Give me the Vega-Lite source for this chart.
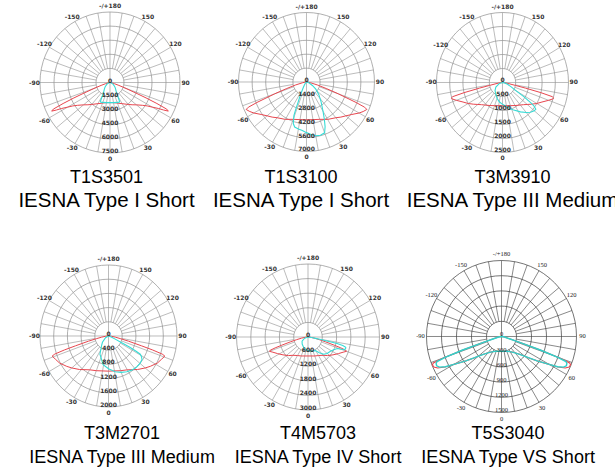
{
"$schema": "https://vega.github.io/schema/vega-lite/v6.json",
"padding": 0,
"background": "white",
"bounds": "flush",
"columns": 3,
"spacing": {"row": 88, "column": 0},
"resolve": {"scale": {"size": "independent", "x": "independent", "y": "independent"}},
"datasets": {
"spokes": [{"a":0},{"a":10},{"a":20},{"a":30},{"a":40},{"a":50},{"a":60},{"a":70},{"a":80},{"a":90},{"a":100},{"a":110},{"a":120},{"a":130},{"a":140},{"a":150},{"a":160},{"a":170},{"a":180},{"a":190},{"a":200},{"a":210},{"a":220},{"a":230},{"a":240},{"a":250},{"a":260},{"a":270},{"a":280},{"a":290},{"a":300},{"a":310},{"a":320},{"a":330},{"a":340},{"a":350}],
"alabels": [{"a":0,"t":"0"},{"a":30,"t":"30"},{"a":60,"t":"60"},{"a":90,"t":"90"},{"a":120,"t":"120"},{"a":150,"t":"150"},{"a":180,"t":"-/+180"},{"a":-150,"t":"-150"},{"a":-120,"t":"-120"},{"a":-90,"t":"-90"},{"a":-60,"t":"-60"},{"a":-30,"t":"-30"}],
"rings": [
{"p":1,"v":0},{"p":1,"v":1500},{"p":1,"v":3000},{"p":1,"v":4500},{"p":1,"v":6000},{"p":1,"v":7500},
{"p":2,"v":0},{"p":2,"v":1400},{"p":2,"v":2800},{"p":2,"v":4200},{"p":2,"v":5600},{"p":2,"v":7000},
{"p":3,"v":0},{"p":3,"v":500},{"p":3,"v":1000},{"p":3,"v":1500},{"p":3,"v":2000},{"p":3,"v":2500},
{"p":4,"v":0},{"p":4,"v":400},{"p":4,"v":800},{"p":4,"v":1200},{"p":4,"v":1600},{"p":4,"v":2000},
{"p":5,"v":0},{"p":5,"v":600},{"p":5,"v":1200},{"p":5,"v":1800},{"p":5,"v":2400},{"p":5,"v":3000},
{"p":6,"v":0},{"p":6,"v":300},{"p":6,"v":600},{"p":6,"v":900},{"p":6,"v":1200},{"p":6,"v":1500}],
"curves": [
{"p":1,"s":"r","a":-90,"v":0},{"p":1,"s":"r","a":-85,"v":70},{"p":1,"s":"r","a":-80,"v":200},{"p":1,"s":"r","a":-75,"v":500},{"p":1,"s":"r","a":-72,"v":1000},{"p":1,"s":"r","a":-70,"v":1700},{"p":1,"s":"r","a":-68,"v":3000},{"p":1,"s":"r","a":-67,"v":4200},{"p":1,"s":"r","a":-66,"v":5500},{"p":1,"s":"r","a":-65,"v":6700},{"p":1,"s":"r","a":-64,"v":6950},{"p":1,"s":"r","a":-63,"v":6450},{"p":1,"s":"r","a":-62,"v":5900},{"p":1,"s":"r","a":-60,"v":5240},{"p":1,"s":"r","a":-58,"v":4700},{"p":1,"s":"r","a":-55,"v":4230},{"p":1,"s":"r","a":-50,"v":3700},{"p":1,"s":"r","a":-45,"v":3350},{"p":1,"s":"r","a":-40,"v":3050},{"p":1,"s":"r","a":-30,"v":2600},{"p":1,"s":"r","a":-20,"v":2330},{"p":1,"s":"r","a":-10,"v":2180},
{"p":1,"s":"r","a":0,"v":2140},{"p":1,"s":"r","a":10,"v":2180},{"p":1,"s":"r","a":20,"v":2330},{"p":1,"s":"r","a":30,"v":2600},{"p":1,"s":"r","a":40,"v":3050},{"p":1,"s":"r","a":45,"v":3350},{"p":1,"s":"r","a":50,"v":3700},{"p":1,"s":"r","a":55,"v":4230},{"p":1,"s":"r","a":58,"v":4700},{"p":1,"s":"r","a":60,"v":5240},{"p":1,"s":"r","a":62,"v":5900},{"p":1,"s":"r","a":63,"v":6450},{"p":1,"s":"r","a":64,"v":6950},{"p":1,"s":"r","a":65,"v":6700},{"p":1,"s":"r","a":66,"v":5500},{"p":1,"s":"r","a":67,"v":4200},{"p":1,"s":"r","a":68,"v":3000},{"p":1,"s":"r","a":70,"v":1700},{"p":1,"s":"r","a":72,"v":1000},{"p":1,"s":"r","a":75,"v":500},{"p":1,"s":"r","a":80,"v":200},{"p":1,"s":"r","a":85,"v":70},{"p":1,"s":"r","a":90,"v":0},
{"p":1,"s":"c","a":-90,"v":0},{"p":1,"s":"c","a":-80,"v":80},{"p":1,"s":"c","a":-70,"v":200},{"p":1,"s":"c","a":-60,"v":400},{"p":1,"s":"c","a":-50,"v":650},{"p":1,"s":"c","a":-45,"v":800},{"p":1,"s":"c","a":-40,"v":950},{"p":1,"s":"c","a":-35,"v":1150},{"p":1,"s":"c","a":-31,"v":1450},{"p":1,"s":"c","a":-29,"v":1800},{"p":1,"s":"c","a":-27,"v":2250},{"p":1,"s":"c","a":-25,"v":2320},{"p":1,"s":"c","a":-20,"v":2250},{"p":1,"s":"c","a":-10,"v":2170},
{"p":1,"s":"c","a":0,"v":2140},{"p":1,"s":"c","a":10,"v":2170},{"p":1,"s":"c","a":20,"v":2250},{"p":1,"s":"c","a":25,"v":2320},{"p":1,"s":"c","a":27,"v":2250},{"p":1,"s":"c","a":29,"v":1800},{"p":1,"s":"c","a":31,"v":1450},{"p":1,"s":"c","a":35,"v":1150},{"p":1,"s":"c","a":40,"v":950},{"p":1,"s":"c","a":45,"v":800},{"p":1,"s":"c","a":50,"v":650},{"p":1,"s":"c","a":60,"v":400},{"p":1,"s":"c","a":70,"v":200},{"p":1,"s":"c","a":80,"v":80},{"p":1,"s":"c","a":90,"v":0},
{"p":2,"s":"r","a":-90,"v":0},{"p":2,"s":"r","a":-85,"v":150},{"p":2,"s":"r","a":-80,"v":400},{"p":2,"s":"r","a":-75,"v":1200},{"p":2,"s":"r","a":-72,"v":2200},{"p":2,"s":"r","a":-70,"v":3500},{"p":2,"s":"r","a":-68,"v":5500},{"p":2,"s":"r","a":-67,"v":6500},{"p":2,"s":"r","a":-66,"v":6800},{"p":2,"s":"r","a":-63,"v":6550},{"p":2,"s":"r","a":-60,"v":6250},{"p":2,"s":"r","a":-55,"v":5700},{"p":2,"s":"r","a":-50,"v":5300},{"p":2,"s":"r","a":-45,"v":5000},{"p":2,"s":"r","a":-40,"v":4700},{"p":2,"s":"r","a":-30,"v":4350},{"p":2,"s":"r","a":-20,"v":4000},{"p":2,"s":"r","a":-10,"v":3850},
{"p":2,"s":"r","a":0,"v":3800},{"p":2,"s":"r","a":10,"v":3850},{"p":2,"s":"r","a":20,"v":4000},{"p":2,"s":"r","a":30,"v":4350},{"p":2,"s":"r","a":40,"v":4700},{"p":2,"s":"r","a":45,"v":5000},{"p":2,"s":"r","a":50,"v":5300},{"p":2,"s":"r","a":55,"v":5700},{"p":2,"s":"r","a":60,"v":6250},{"p":2,"s":"r","a":63,"v":6550},{"p":2,"s":"r","a":66,"v":6800},{"p":2,"s":"r","a":67,"v":6500},{"p":2,"s":"r","a":68,"v":5500},{"p":2,"s":"r","a":70,"v":3500},{"p":2,"s":"r","a":72,"v":2200},{"p":2,"s":"r","a":75,"v":1200},{"p":2,"s":"r","a":80,"v":400},{"p":2,"s":"r","a":85,"v":150},{"p":2,"s":"r","a":90,"v":0},
{"p":2,"s":"c","a":-90,"v":0},{"p":2,"s":"c","a":-60,"v":50},{"p":2,"s":"c","a":-45,"v":150},{"p":2,"s":"c","a":-35,"v":400},{"p":2,"s":"c","a":-30,"v":700},{"p":2,"s":"c","a":-27,"v":1100},{"p":2,"s":"c","a":-25,"v":1600},{"p":2,"s":"c","a":-23,"v":2200},{"p":2,"s":"c","a":-22,"v":2900},{"p":2,"s":"c","a":-21,"v":3600},{"p":2,"s":"c","a":-18,"v":4400},{"p":2,"s":"c","a":-15,"v":4700},{"p":2,"s":"c","a":-10,"v":4800},{"p":2,"s":"c","a":-5,"v":4900},{"p":2,"s":"c","a":0,"v":5100},{"p":2,"s":"c","a":5,"v":5300},{"p":2,"s":"c","a":10,"v":5500},{"p":2,"s":"c","a":15,"v":5550},{"p":2,"s":"c","a":20,"v":5450},{"p":2,"s":"c","a":23,"v":4900},{"p":2,"s":"c","a":26,"v":4200},{"p":2,"s":"c","a":30,"v":3400},{"p":2,"s":"c","a":37,"v":2500},{"p":2,"s":"c","a":45,"v":1800},{"p":2,"s":"c","a":53,"v":1200},{"p":2,"s":"c","a":60,"v":700},{"p":2,"s":"c","a":70,"v":300},{"p":2,"s":"c","a":80,"v":100},{"p":2,"s":"c","a":90,"v":0},
{"p":3,"s":"r","a":-90,"v":0},{"p":3,"s":"r","a":-84,"v":100},{"p":3,"s":"r","a":-80,"v":250},{"p":3,"s":"r","a":-78,"v":500},{"p":3,"s":"r","a":-77,"v":900},{"p":3,"s":"r","a":-76,"v":1500},{"p":3,"s":"r","a":-75,"v":1950},{"p":3,"s":"r","a":-74,"v":2020},{"p":3,"s":"r","a":-73,"v":2000},{"p":3,"s":"r","a":-70,"v":1860},{"p":3,"s":"r","a":-65,"v":1650},{"p":3,"s":"r","a":-60,"v":1500},{"p":3,"s":"r","a":-55,"v":1350},{"p":3,"s":"r","a":-50,"v":1220},{"p":3,"s":"r","a":-45,"v":1120},{"p":3,"s":"r","a":-40,"v":1050},{"p":3,"s":"r","a":-30,"v":950},{"p":3,"s":"r","a":-20,"v":880},
{"p":3,"s":"r","a":0,"v":830},{"p":3,"s":"r","a":20,"v":880},{"p":3,"s":"r","a":30,"v":950},{"p":3,"s":"r","a":40,"v":1050},{"p":3,"s":"r","a":45,"v":1120},{"p":3,"s":"r","a":50,"v":1220},{"p":3,"s":"r","a":55,"v":1350},{"p":3,"s":"r","a":60,"v":1500},{"p":3,"s":"r","a":65,"v":1650},{"p":3,"s":"r","a":70,"v":1860},{"p":3,"s":"r","a":73,"v":2000},{"p":3,"s":"r","a":74,"v":2020},{"p":3,"s":"r","a":75,"v":1950},{"p":3,"s":"r","a":76,"v":1500},{"p":3,"s":"r","a":77,"v":900},{"p":3,"s":"r","a":78,"v":500},{"p":3,"s":"r","a":80,"v":250},{"p":3,"s":"r","a":84,"v":100},{"p":3,"s":"r","a":90,"v":0},
{"p":3,"s":"c","a":-90,"v":0},{"p":3,"s":"c","a":-75,"v":120},{"p":3,"s":"c","a":-57,"v":300},{"p":3,"s":"c","a":-45,"v":400},{"p":3,"s":"c","a":-30,"v":500},{"p":3,"s":"c","a":-20,"v":600},{"p":3,"s":"c","a":-10,"v":700},{"p":3,"s":"c","a":0,"v":780},{"p":3,"s":"c","a":12,"v":900},{"p":3,"s":"c","a":22,"v":1050},{"p":3,"s":"c","a":33,"v":1250},{"p":3,"s":"c","a":40,"v":1400},{"p":3,"s":"c","a":45,"v":1500},{"p":3,"s":"c","a":50,"v":1570},{"p":3,"s":"c","a":53,"v":1580},{"p":3,"s":"c","a":55,"v":1450},{"p":3,"s":"c","a":56,"v":1300},{"p":3,"s":"c","a":58,"v":950},{"p":3,"s":"c","a":60,"v":600},{"p":3,"s":"c","a":65,"v":350},{"p":3,"s":"c","a":72,"v":200},{"p":3,"s":"c","a":80,"v":80},{"p":3,"s":"c","a":90,"v":0},
{"p":4,"s":"r","a":-90,"v":0},{"p":4,"s":"r","a":-85,"v":80},{"p":4,"s":"r","a":-81,"v":200},{"p":4,"s":"r","a":-78,"v":350},{"p":4,"s":"r","a":-76,"v":600},{"p":4,"s":"r","a":-74,"v":1000},{"p":4,"s":"r","a":-73,"v":1350},{"p":4,"s":"r","a":-72,"v":1650},{"p":4,"s":"r","a":-71,"v":1740},{"p":4,"s":"r","a":-67,"v":1680},{"p":4,"s":"r","a":-62,"v":1620},{"p":4,"s":"r","a":-55,"v":1490},{"p":4,"s":"r","a":-50,"v":1400},{"p":4,"s":"r","a":-42,"v":1270},{"p":4,"s":"r","a":-30,"v":1100},{"p":4,"s":"r","a":-20,"v":1040},
{"p":4,"s":"r","a":0,"v":990},{"p":4,"s":"r","a":20,"v":1040},{"p":4,"s":"r","a":30,"v":1100},{"p":4,"s":"r","a":42,"v":1270},{"p":4,"s":"r","a":50,"v":1400},{"p":4,"s":"r","a":55,"v":1490},{"p":4,"s":"r","a":62,"v":1620},{"p":4,"s":"r","a":67,"v":1680},{"p":4,"s":"r","a":71,"v":1740},{"p":4,"s":"r","a":72,"v":1650},{"p":4,"s":"r","a":73,"v":1350},{"p":4,"s":"r","a":74,"v":1000},{"p":4,"s":"r","a":76,"v":600},{"p":4,"s":"r","a":78,"v":350},{"p":4,"s":"r","a":81,"v":200},{"p":4,"s":"r","a":85,"v":80},{"p":4,"s":"r","a":90,"v":0},
{"p":4,"s":"c","a":-90,"v":0},{"p":4,"s":"c","a":-60,"v":100},{"p":4,"s":"c","a":-45,"v":250},{"p":4,"s":"c","a":-37,"v":335},{"p":4,"s":"c","a":-26,"v":570},{"p":4,"s":"c","a":-11,"v":820},{"p":4,"s":"c","a":0,"v":920},{"p":4,"s":"c","a":11,"v":1025},{"p":4,"s":"c","a":20,"v":1090},{"p":4,"s":"c","a":28,"v":1140},{"p":4,"s":"c","a":36,"v":1180},{"p":4,"s":"c","a":44,"v":1200},{"p":4,"s":"c","a":50,"v":1200},{"p":4,"s":"c","a":56,"v":1180},{"p":4,"s":"c","a":59,"v":1120},{"p":4,"s":"c","a":61,"v":1060},{"p":4,"s":"c","a":62,"v":900},{"p":4,"s":"c","a":63,"v":700},{"p":4,"s":"c","a":64,"v":400},{"p":4,"s":"c","a":66,"v":200},{"p":4,"s":"c","a":70,"v":100},{"p":4,"s":"c","a":80,"v":30},{"p":4,"s":"c","a":90,"v":0},
{"p":5,"s":"r","a":-90,"v":0},{"p":5,"s":"r","a":-85,"v":100},{"p":5,"s":"r","a":-80,"v":280},{"p":5,"s":"r","a":-77,"v":500},{"p":5,"s":"r","a":-75,"v":750},{"p":5,"s":"r","a":-73,"v":1150},{"p":5,"s":"r","a":-72,"v":1450},{"p":5,"s":"r","a":-71,"v":1680},{"p":5,"s":"r","a":-70,"v":1720},{"p":5,"s":"r","a":-67,"v":1600},{"p":5,"s":"r","a":-62,"v":1450},{"p":5,"s":"r","a":-55,"v":1280},{"p":5,"s":"r","a":-47,"v":1120},{"p":5,"s":"r","a":-40,"v":980},{"p":5,"s":"r","a":-30,"v":880},{"p":5,"s":"r","a":-20,"v":830},
{"p":5,"s":"r","a":0,"v":780},{"p":5,"s":"r","a":20,"v":830},{"p":5,"s":"r","a":30,"v":880},{"p":5,"s":"r","a":40,"v":980},{"p":5,"s":"r","a":47,"v":1120},{"p":5,"s":"r","a":55,"v":1280},{"p":5,"s":"r","a":62,"v":1450},{"p":5,"s":"r","a":67,"v":1600},{"p":5,"s":"r","a":70,"v":1720},{"p":5,"s":"r","a":71,"v":1680},{"p":5,"s":"r","a":72,"v":1450},{"p":5,"s":"r","a":73,"v":1150},{"p":5,"s":"r","a":75,"v":750},{"p":5,"s":"r","a":77,"v":500},{"p":5,"s":"r","a":80,"v":280},{"p":5,"s":"r","a":85,"v":100},{"p":5,"s":"r","a":90,"v":0},
{"p":5,"s":"c","a":-90,"v":0},{"p":5,"s":"c","a":-70,"v":150},{"p":5,"s":"c","a":-56,"v":300},{"p":5,"s":"c","a":-40,"v":380},{"p":5,"s":"c","a":-24,"v":460},{"p":5,"s":"c","a":-10,"v":520},{"p":5,"s":"c","a":0,"v":560},{"p":5,"s":"c","a":15,"v":600},{"p":5,"s":"c","a":29,"v":640},{"p":5,"s":"c","a":36,"v":800},{"p":5,"s":"c","a":43,"v":970},{"p":5,"s":"c","a":50,"v":1050},{"p":5,"s":"c","a":58,"v":1110},{"p":5,"s":"c","a":64,"v":1200},{"p":5,"s":"c","a":69,"v":1320},{"p":5,"s":"c","a":71,"v":1600},{"p":5,"s":"c","a":73,"v":1650},{"p":5,"s":"c","a":75,"v":1640},{"p":5,"s":"c","a":76.5,"v":1500},{"p":5,"s":"c","a":77.5,"v":1250},{"p":5,"s":"c","a":78,"v":900},{"p":5,"s":"c","a":79,"v":550},{"p":5,"s":"c","a":80,"v":320},{"p":5,"s":"c","a":83,"v":150},{"p":5,"s":"c","a":90,"v":0},
{"p":6,"s":"r","a":-90,"v":0},{"p":6,"s":"r","a":-80,"v":60},{"p":6,"s":"r","a":-74,"v":180},{"p":6,"s":"r","a":-72,"v":450},{"p":6,"s":"r","a":-71,"v":850},{"p":6,"s":"r","a":-70,"v":1250},{"p":6,"s":"r","a":-69,"v":1460},{"p":6,"s":"r","a":-68,"v":1490},{"p":6,"s":"r","a":-66,"v":1480},{"p":6,"s":"r","a":-64,"v":1420},{"p":6,"s":"r","a":-62,"v":1280},{"p":6,"s":"r","a":-60,"v":1100},{"p":6,"s":"r","a":-56,"v":860},{"p":6,"s":"r","a":-52,"v":680},{"p":6,"s":"r","a":-50,"v":600},{"p":6,"s":"r","a":-45,"v":490},{"p":6,"s":"r","a":-40,"v":420},{"p":6,"s":"r","a":-30,"v":345},{"p":6,"s":"r","a":-20,"v":310},
{"p":6,"s":"r","a":0,"v":290},{"p":6,"s":"r","a":20,"v":310},{"p":6,"s":"r","a":30,"v":345},{"p":6,"s":"r","a":40,"v":420},{"p":6,"s":"r","a":45,"v":490},{"p":6,"s":"r","a":50,"v":600},{"p":6,"s":"r","a":52,"v":680},{"p":6,"s":"r","a":56,"v":860},{"p":6,"s":"r","a":60,"v":1100},{"p":6,"s":"r","a":62,"v":1280},{"p":6,"s":"r","a":64,"v":1420},{"p":6,"s":"r","a":66,"v":1480},{"p":6,"s":"r","a":68,"v":1490},{"p":6,"s":"r","a":69,"v":1460},{"p":6,"s":"r","a":70,"v":1250},{"p":6,"s":"r","a":71,"v":850},{"p":6,"s":"r","a":72,"v":450},{"p":6,"s":"r","a":74,"v":180},{"p":6,"s":"r","a":80,"v":60},{"p":6,"s":"r","a":90,"v":0},
{"p":6,"s":"c","a":-90,"v":0},{"p":6,"s":"c","a":-80,"v":60},{"p":6,"s":"c","a":-74,"v":180},{"p":6,"s":"c","a":-72,"v":440},{"p":6,"s":"c","a":-71,"v":820},{"p":6,"s":"c","a":-70,"v":1200},{"p":6,"s":"c","a":-69,"v":1380},{"p":6,"s":"c","a":-68,"v":1410},{"p":6,"s":"c","a":-66,"v":1420},{"p":6,"s":"c","a":-64,"v":1380},{"p":6,"s":"c","a":-62,"v":1270},{"p":6,"s":"c","a":-60,"v":1100},{"p":6,"s":"c","a":-56,"v":860},{"p":6,"s":"c","a":-52,"v":680},{"p":6,"s":"c","a":-50,"v":600},{"p":6,"s":"c","a":-45,"v":490},{"p":6,"s":"c","a":-40,"v":420},{"p":6,"s":"c","a":-30,"v":345},{"p":6,"s":"c","a":-20,"v":310},
{"p":6,"s":"c","a":0,"v":290},{"p":6,"s":"c","a":20,"v":310},{"p":6,"s":"c","a":30,"v":345},{"p":6,"s":"c","a":40,"v":420},{"p":6,"s":"c","a":45,"v":490},{"p":6,"s":"c","a":50,"v":600},{"p":6,"s":"c","a":52,"v":680},{"p":6,"s":"c","a":56,"v":860},{"p":6,"s":"c","a":60,"v":1100},{"p":6,"s":"c","a":62,"v":1270},{"p":6,"s":"c","a":64,"v":1380},{"p":6,"s":"c","a":66,"v":1420},{"p":6,"s":"c","a":68,"v":1410},{"p":6,"s":"c","a":69,"v":1380},{"p":6,"s":"c","a":70,"v":1200},{"p":6,"s":"c","a":71,"v":820},{"p":6,"s":"c","a":72,"v":440},{"p":6,"s":"c","a":74,"v":180},{"p":6,"s":"c","a":80,"v":60},{"p":6,"s":"c","a":90,"v":0}
]
},
"concat": [
{"width": 205, "height": 168,
 "title": {"text": "T1S3501", "subtitle": "IESNA Type I Short", "dx": 4, "subtitleFontSize": 20.5, "subtitlePadding": 3.5},
 "encoding": {"x": {"field": "x", "type": "quantitative", "scale": {"domain": [-11785.7, 10178.6], "nice": false, "zero": false}, "axis": null},
              "y": {"field": "y", "type": "quantitative", "scale": {"domain": [-9095.7, 8776.6], "nice": false, "zero": false}, "axis": null}},
 "layer": [
  {"data": {"name": "rings"}, "transform": [{"filter": "datum.p == 1"}, {"calculate": "0", "as": "x"}, {"calculate": "0", "as": "y"}],
   "mark": {"type": "point", "shape": "M 0.993 0 C 0.993 0.5523 0.5484 1 0 1 C -0.5484 1 -0.993 0.5523 -0.993 0 C -0.993 -0.5523 -0.5484 -1 0 -1 C 0.5484 -1 0.993 -0.5523 0.993 0 Z", "filled": false, "stroke": "#8e8e8e", "strokeWidth": 0.7, "opacity": 1},
   "encoding": {"size": {"field": "v", "type": "quantitative", "scale": {"type": "pow", "exponent": 2, "domain": [0, 7500], "range": [0, 19881]}, "legend": null}}},
  {"data": {"name": "spokes"}, "transform": [{"calculate": "datum.a % 90 == 0 ? 0 : 1500", "as": "r0"}, {"calculate": "datum.r0*sin(datum.a*PI/180)", "as": "x"}, {"calculate": "-datum.r0*cos(datum.a*PI/180)", "as": "y"}, {"calculate": "7500*sin(datum.a*PI/180)", "as": "x2"}, {"calculate": "-7500*cos(datum.a*PI/180)", "as": "y2"}],
   "mark": {"type": "rule", "color": "#8e8e8e", "strokeWidth": 0.6}, "encoding": {"x2": {"field": "x2"}, "y2": {"field": "y2"}}},
  {"data": {"name": "curves"}, "transform": [{"filter": "datum.p == 1 && datum.s == 'r'"}, {"calculate": "datum.v*sin(datum.a*PI/180)", "as": "x"}, {"calculate": "-datum.v*cos(datum.a*PI/180)", "as": "y"}],
   "mark": {"type": "line", "color": "#e8464f", "strokeWidth": 1}, "encoding": {"order": {"field": "a", "type": "quantitative"}}},
  {"data": {"name": "curves"}, "transform": [{"filter": "datum.p == 1 && datum.s == 'c'"}, {"calculate": "datum.v*sin(datum.a*PI/180)", "as": "x"}, {"calculate": "-datum.v*cos(datum.a*PI/180)", "as": "y"}],
   "mark": {"type": "line", "color": "#36dcd6", "strokeWidth": 1.1}, "encoding": {"order": {"field": "a", "type": "quantitative"}}},
  {"data": {"name": "alabels"}, "transform": [{"calculate": "8100*sin(datum.a*PI/180)", "as": "x"}, {"calculate": "-8100*cos(datum.a*PI/180)", "as": "y"}],
   "mark": {"type": "text", "font": "DejaVu Sans", "fontSize": 6, "fontWeight": "bold", "color": "#333", "align": "center", "baseline": "middle"}, "encoding": {"text": {"field": "t"}}},
  {"data": {"name": "rings"}, "transform": [{"filter": "datum.p == 1"}, {"calculate": "0", "as": "x"}, {"calculate": "-datum.v", "as": "y"}],
   "mark": {"type": "text", "font": "DejaVu Sans", "fontSize": 6, "fontWeight": "bold", "color": "#333", "align": "center", "baseline": "middle", "dy": -2}, "encoding": {"text": {"field": "v", "type": "quantitative", "format": "d"}}}
 ]},
{"width": 205, "height": 168,
 "title": {"text": "T1S3100", "subtitle": "IESNA Type I Short", "dx": -6.5, "subtitleFontSize": 20.5, "subtitlePadding": 3.5},
 "encoding": {"x": {"field": "x", "type": "quantitative", "scale": {"domain": [-10448.5, 10654.4], "nice": false, "zero": false}, "axis": null},
              "y": {"field": "y", "type": "quantitative", "scale": {"domain": [-8661.9, 8259.0], "nice": false, "zero": false}, "axis": null}},
 "layer": [
  {"data": {"name": "rings"}, "transform": [{"filter": "datum.p == 2"}, {"calculate": "0", "as": "x"}, {"calculate": "0", "as": "y"}],
   "mark": {"type": "point", "shape": "M 0.978 0 C 0.978 0.5523 0.540 1 0 1 C -0.540 1 -0.978 0.5523 -0.978 0 C -0.978 -0.5523 -0.540 -1 0 -1 C 0.540 -1 0.978 -0.5523 0.978 0 Z", "filled": false, "stroke": "#8e8e8e", "strokeWidth": 0.7, "opacity": 1},
   "encoding": {"size": {"field": "v", "type": "quantitative", "scale": {"type": "pow", "exponent": 2, "domain": [0, 7000], "range": [0, 19321]}, "legend": null}}},
  {"data": {"name": "spokes"}, "transform": [{"calculate": "datum.a % 90 == 0 ? 0 : 1400", "as": "r0"}, {"calculate": "datum.r0*sin(datum.a*PI/180)", "as": "x"}, {"calculate": "-datum.r0*cos(datum.a*PI/180)", "as": "y"}, {"calculate": "7000*sin(datum.a*PI/180)", "as": "x2"}, {"calculate": "-7000*cos(datum.a*PI/180)", "as": "y2"}],
   "mark": {"type": "rule", "color": "#8e8e8e", "strokeWidth": 0.6}, "encoding": {"x2": {"field": "x2"}, "y2": {"field": "y2"}}},
  {"data": {"name": "curves"}, "transform": [{"filter": "datum.p == 2 && datum.s == 'r'"}, {"calculate": "datum.v*sin(datum.a*PI/180)", "as": "x"}, {"calculate": "-datum.v*cos(datum.a*PI/180)", "as": "y"}],
   "mark": {"type": "line", "color": "#e8464f", "strokeWidth": 1}, "encoding": {"order": {"field": "a", "type": "quantitative"}}},
  {"data": {"name": "curves"}, "transform": [{"filter": "datum.p == 2 && datum.s == 'c'"}, {"calculate": "datum.v*sin(datum.a*PI/180)", "as": "x"}, {"calculate": "-datum.v*cos(datum.a*PI/180)", "as": "y"}],
   "mark": {"type": "line", "color": "#36dcd6", "strokeWidth": 1.1}, "encoding": {"order": {"field": "a", "type": "quantitative"}}},
  {"data": {"name": "alabels"}, "transform": [{"calculate": "7560*sin(datum.a*PI/180)", "as": "x"}, {"calculate": "-7560*cos(datum.a*PI/180)", "as": "y"}],
   "mark": {"type": "text", "font": "DejaVu Sans", "fontSize": 6, "fontWeight": "bold", "color": "#333", "align": "center", "baseline": "middle"}, "encoding": {"text": {"field": "t"}}},
  {"data": {"name": "rings"}, "transform": [{"filter": "datum.p == 2"}, {"calculate": "0", "as": "x"}, {"calculate": "-datum.v", "as": "y"}],
   "mark": {"type": "text", "font": "DejaVu Sans", "fontSize": 6, "fontWeight": "bold", "color": "#333", "align": "center", "baseline": "middle", "dy": -2}, "encoding": {"text": {"field": "v", "type": "quantitative", "format": "d"}}}
 ]},
{"width": 205, "height": 168,
 "title": {"text": "T3M3910", "subtitle": "IESNA Type III Medium", "dx": 0, "subtitleFontSize": 20.5, "subtitlePadding": 3.5},
 "encoding": {"x": {"field": "x", "type": "quantitative", "scale": {"domain": [-3503.8, 4261.4], "nice": false, "zero": false}, "axis": null},
              "y": {"field": "y", "type": "quantitative", "scale": {"domain": [-3053.6, 2946.4], "nice": false, "zero": false}, "axis": null}},
 "layer": [
  {"data": {"name": "rings"}, "transform": [{"filter": "datum.p == 3"}, {"calculate": "0", "as": "x"}, {"calculate": "0", "as": "y"}],
   "mark": {"type": "point", "shape": "M 0.943 0 C 0.943 0.5523 0.5208 1 0 1 C -0.5208 1 -0.943 0.5523 -0.943 0 C -0.943 -0.5523 -0.5208 -1 0 -1 C 0.5208 -1 0.943 -0.5523 0.943 0 Z", "filled": false, "stroke": "#8e8e8e", "strokeWidth": 0.7, "opacity": 1},
   "encoding": {"size": {"field": "v", "type": "quantitative", "scale": {"type": "pow", "exponent": 2, "domain": [0, 2500], "range": [0, 19600]}, "legend": null}}},
  {"data": {"name": "spokes"}, "transform": [{"calculate": "datum.a % 90 == 0 ? 0 : 500", "as": "r0"}, {"calculate": "datum.r0*sin(datum.a*PI/180)", "as": "x"}, {"calculate": "-datum.r0*cos(datum.a*PI/180)", "as": "y"}, {"calculate": "2500*sin(datum.a*PI/180)", "as": "x2"}, {"calculate": "-2500*cos(datum.a*PI/180)", "as": "y2"}],
   "mark": {"type": "rule", "color": "#8e8e8e", "strokeWidth": 0.6}, "encoding": {"x2": {"field": "x2"}, "y2": {"field": "y2"}}},
  {"data": {"name": "curves"}, "transform": [{"filter": "datum.p == 3 && datum.s == 'r'"}, {"calculate": "datum.v*sin(datum.a*PI/180)", "as": "x"}, {"calculate": "-datum.v*cos(datum.a*PI/180)", "as": "y"}],
   "mark": {"type": "line", "color": "#e8464f", "strokeWidth": 1}, "encoding": {"order": {"field": "a", "type": "quantitative"}}},
  {"data": {"name": "curves"}, "transform": [{"filter": "datum.p == 3 && datum.s == 'c'"}, {"calculate": "datum.v*sin(datum.a*PI/180)", "as": "x"}, {"calculate": "-datum.v*cos(datum.a*PI/180)", "as": "y"}],
   "mark": {"type": "line", "color": "#36dcd6", "strokeWidth": 1.1}, "encoding": {"order": {"field": "a", "type": "quantitative"}}},
  {"data": {"name": "alabels"}, "transform": [{"calculate": "2700*sin(datum.a*PI/180)", "as": "x"}, {"calculate": "-2700*cos(datum.a*PI/180)", "as": "y"}],
   "mark": {"type": "text", "font": "DejaVu Sans", "fontSize": 6, "fontWeight": "bold", "color": "#333", "align": "center", "baseline": "middle"}, "encoding": {"text": {"field": "t"}}},
  {"data": {"name": "rings"}, "transform": [{"filter": "datum.p == 3"}, {"calculate": "0", "as": "x"}, {"calculate": "-datum.v", "as": "y"}],
   "mark": {"type": "text", "font": "DejaVu Sans", "fontSize": 6, "fontWeight": "bold", "color": "#333", "align": "center", "baseline": "middle", "dy": -2}, "encoding": {"text": {"field": "v", "type": "quantitative", "format": "d"}}}
 ]},
{"width": 205, "height": 168,
 "title": {"text": "T3M2701", "subtitle": "IESNA Type III Medium", "dx": 19.5, "subtitleFontSize": 18, "subtitlePadding": 6},
 "encoding": {"x": {"field": "x", "type": "quantitative", "scale": {"domain": [-3167.9, 2817.5], "nice": false, "zero": false}, "axis": null},
              "y": {"field": "y", "type": "quantitative", "scale": {"domain": [-2478.9, 2253.5], "nice": false, "zero": false}, "axis": null}},
 "layer": [
  {"data": {"name": "rings"}, "transform": [{"filter": "datum.p == 4"}, {"calculate": "0", "as": "x"}, {"calculate": "0", "as": "y"}],
   "mark": {"type": "point", "shape": "M 0.965 0 C 0.965 0.5523 0.533 1 0 1 C -0.533 1 -0.965 0.5523 -0.965 0 C -0.965 -0.5523 -0.533 -1 0 -1 C 0.533 -1 0.965 -0.5523 0.965 0 Z", "filled": false, "stroke": "#8e8e8e", "strokeWidth": 0.7, "opacity": 1},
   "encoding": {"size": {"field": "v", "type": "quantitative", "scale": {"type": "pow", "exponent": 2, "domain": [0, 2000], "range": [0, 20164]}, "legend": null}}},
  {"data": {"name": "spokes"}, "transform": [{"calculate": "datum.a % 90 == 0 ? 0 : 400", "as": "r0"}, {"calculate": "datum.r0*sin(datum.a*PI/180)", "as": "x"}, {"calculate": "-datum.r0*cos(datum.a*PI/180)", "as": "y"}, {"calculate": "2000*sin(datum.a*PI/180)", "as": "x2"}, {"calculate": "-2000*cos(datum.a*PI/180)", "as": "y2"}],
   "mark": {"type": "rule", "color": "#8e8e8e", "strokeWidth": 0.6}, "encoding": {"x2": {"field": "x2"}, "y2": {"field": "y2"}}},
  {"data": {"name": "curves"}, "transform": [{"filter": "datum.p == 4 && datum.s == 'r'"}, {"calculate": "datum.v*sin(datum.a*PI/180)", "as": "x"}, {"calculate": "-datum.v*cos(datum.a*PI/180)", "as": "y"}],
   "mark": {"type": "line", "color": "#e8464f", "strokeWidth": 1}, "encoding": {"order": {"field": "a", "type": "quantitative"}}},
  {"data": {"name": "curves"}, "transform": [{"filter": "datum.p == 4 && datum.s == 'c'"}, {"calculate": "datum.v*sin(datum.a*PI/180)", "as": "x"}, {"calculate": "-datum.v*cos(datum.a*PI/180)", "as": "y"}],
   "mark": {"type": "line", "color": "#36dcd6", "strokeWidth": 1.1}, "encoding": {"order": {"field": "a", "type": "quantitative"}}},
  {"data": {"name": "alabels"}, "transform": [{"calculate": "2160*sin(datum.a*PI/180)", "as": "x"}, {"calculate": "-2160*cos(datum.a*PI/180)", "as": "y"}],
   "mark": {"type": "text", "font": "DejaVu Sans", "fontSize": 6, "fontWeight": "bold", "color": "#333", "align": "center", "baseline": "middle"}, "encoding": {"text": {"field": "t"}}},
  {"data": {"name": "rings"}, "transform": [{"filter": "datum.p == 4"}, {"calculate": "0", "as": "x"}, {"calculate": "-datum.v", "as": "y"}],
   "mark": {"type": "text", "font": "DejaVu Sans", "fontSize": 6, "fontWeight": "bold", "color": "#333", "align": "center", "baseline": "middle", "dy": -2}, "encoding": {"text": {"field": "v", "type": "quantitative", "format": "d"}}}
 ]},
{"width": 205, "height": 168,
 "title": {"text": "T4M5703", "subtitle": "IESNA Type IV Short", "dx": 10.5, "subtitleFontSize": 18, "subtitlePadding": 6},
 "encoding": {"x": {"field": "x", "type": "quantitative", "scale": {"domain": [-4321.7, 4279.7], "nice": false, "zero": false}, "axis": null},
              "y": {"field": "y", "type": "quantitative", "scale": {"domain": [-3575.3, 3328.8], "nice": false, "zero": false}, "axis": null}},
 "layer": [
  {"data": {"name": "rings"}, "transform": [{"filter": "datum.p == 5"}, {"calculate": "0", "as": "x"}, {"calculate": "0", "as": "y"}],
   "mark": {"type": "point", "shape": "M 0.979 0 C 0.979 0.5523 0.5407 1 0 1 C -0.5407 1 -0.979 0.5523 -0.979 0 C -0.979 -0.5523 -0.5407 -1 0 -1 C 0.5407 -1 0.979 -0.5523 0.979 0 Z", "filled": false, "stroke": "#8e8e8e", "strokeWidth": 0.7, "opacity": 1},
   "encoding": {"size": {"field": "v", "type": "quantitative", "scale": {"type": "pow", "exponent": 2, "domain": [0, 3000], "range": [0, 21316]}, "legend": null}}},
  {"data": {"name": "spokes"}, "transform": [{"calculate": "datum.a % 90 == 0 ? 0 : 600", "as": "r0"}, {"calculate": "datum.r0*sin(datum.a*PI/180)", "as": "x"}, {"calculate": "-datum.r0*cos(datum.a*PI/180)", "as": "y"}, {"calculate": "3000*sin(datum.a*PI/180)", "as": "x2"}, {"calculate": "-3000*cos(datum.a*PI/180)", "as": "y2"}],
   "mark": {"type": "rule", "color": "#8e8e8e", "strokeWidth": 0.6}, "encoding": {"x2": {"field": "x2"}, "y2": {"field": "y2"}}},
  {"data": {"name": "curves"}, "transform": [{"filter": "datum.p == 5 && datum.s == 'r'"}, {"calculate": "datum.v*sin(datum.a*PI/180)", "as": "x"}, {"calculate": "-datum.v*cos(datum.a*PI/180)", "as": "y"}],
   "mark": {"type": "line", "color": "#e8464f", "strokeWidth": 1}, "encoding": {"order": {"field": "a", "type": "quantitative"}}},
  {"data": {"name": "curves"}, "transform": [{"filter": "datum.p == 5 && datum.s == 'c'"}, {"calculate": "datum.v*sin(datum.a*PI/180)", "as": "x"}, {"calculate": "-datum.v*cos(datum.a*PI/180)", "as": "y"}],
   "mark": {"type": "line", "color": "#36dcd6", "strokeWidth": 1.1}, "encoding": {"order": {"field": "a", "type": "quantitative"}}},
  {"data": {"name": "alabels"}, "transform": [{"calculate": "3240*sin(datum.a*PI/180)", "as": "x"}, {"calculate": "-3240*cos(datum.a*PI/180)", "as": "y"}],
   "mark": {"type": "text", "font": "DejaVu Sans", "fontSize": 6, "fontWeight": "bold", "color": "#333", "align": "center", "baseline": "middle"}, "encoding": {"text": {"field": "t"}}},
  {"data": {"name": "rings"}, "transform": [{"filter": "datum.p == 5"}, {"calculate": "0", "as": "x"}, {"calculate": "-datum.v", "as": "y"}],
   "mark": {"type": "text", "font": "DejaVu Sans", "fontSize": 6, "fontWeight": "bold", "color": "#333", "align": "center", "baseline": "middle", "dy": -2}, "encoding": {"text": {"field": "v", "type": "quantitative", "format": "d"}}}
 ]},
{"width": 205, "height": 168,
 "title": {"text": "T5S3040", "subtitle": "IESNA Type VS Short", "dx": -4.5, "subtitleFontSize": 18, "subtitlePadding": 6},
 "encoding": {"x": {"field": "x", "type": "quantitative", "scale": {"domain": [-1830, 2270], "nice": false, "zero": false}, "axis": null},
              "y": {"field": "y", "type": "quantitative", "scale": {"domain": [-1727.0, 1588.8], "nice": false, "zero": false}, "axis": null}},
 "layer": [
  {"data": {"name": "rings"}, "transform": [{"filter": "datum.p == 6"}, {"calculate": "0", "as": "x"}, {"calculate": "0", "as": "y"}],
   "mark": {"type": "point", "shape": "M 0.987 0 C 0.987 0.5523 0.5451 1 0 1 C -0.5451 1 -0.987 0.5523 -0.987 0 C -0.987 -0.5523 -0.5451 -1 0 -1 C 0.5451 -1 0.987 -0.5523 0.987 0 Z", "filled": false, "stroke": "#3a3a3a", "strokeWidth": 0.7, "opacity": 1},
   "encoding": {"size": {"field": "v", "type": "quantitative", "scale": {"type": "pow", "exponent": 2, "domain": [0, 1500], "range": [0, 23104]}, "legend": null}}},
  {"data": {"name": "spokes"}, "transform": [{"calculate": "datum.a % 90 == 0 ? 0 : 300", "as": "r0"}, {"calculate": "datum.r0*sin(datum.a*PI/180)", "as": "x"}, {"calculate": "-datum.r0*cos(datum.a*PI/180)", "as": "y"}, {"calculate": "1500*sin(datum.a*PI/180)", "as": "x2"}, {"calculate": "-1500*cos(datum.a*PI/180)", "as": "y2"}],
   "mark": {"type": "rule", "color": "#3a3a3a", "strokeWidth": 0.6}, "encoding": {"x2": {"field": "x2"}, "y2": {"field": "y2"}}},
  {"data": {"name": "curves"}, "transform": [{"filter": "datum.p == 6 && datum.s == 'r'"}, {"calculate": "datum.v*sin(datum.a*PI/180)", "as": "x"}, {"calculate": "-datum.v*cos(datum.a*PI/180)", "as": "y"}],
   "mark": {"type": "line", "color": "#e8464f", "strokeWidth": 1.1}, "encoding": {"order": {"field": "a", "type": "quantitative"}}},
  {"data": {"name": "curves"}, "transform": [{"filter": "datum.p == 6 && datum.s == 'c'"}, {"calculate": "datum.v*sin(datum.a*PI/180)", "as": "x"}, {"calculate": "-datum.v*cos(datum.a*PI/180)", "as": "y"}],
   "mark": {"type": "line", "color": "#2fd3cc", "strokeWidth": 1.4}, "encoding": {"order": {"field": "a", "type": "quantitative"}}},
  {"data": {"name": "alabels"}, "transform": [{"calculate": "1620*sin(datum.a*PI/180)", "as": "x"}, {"calculate": "-1620*cos(datum.a*PI/180)", "as": "y"}],
   "mark": {"type": "text", "font": "Liberation Serif", "fontSize": 6.5, "color": "#222", "align": "center", "baseline": "middle"}, "encoding": {"text": {"field": "t"}}},
  {"data": {"name": "rings"}, "transform": [{"filter": "datum.p == 6"}, {"calculate": "0", "as": "x"}, {"calculate": "-datum.v", "as": "y"}],
   "mark": {"type": "text", "font": "Liberation Serif", "fontSize": 6.5, "color": "#222", "align": "center", "baseline": "middle", "dy": -2}, "encoding": {"text": {"field": "v", "type": "quantitative", "format": "d"}}}
 ]}
],
"config": {
 "view": {"stroke": null},
 "title": {"font": "Liberation Sans", "fontSize": 18, "fontWeight": "normal", "color": "#000", "orient": "bottom", "anchor": "middle", "offset": 1, "frame": "group", "subtitleFont": "Liberation Sans", "subtitleColor": "#000", "subtitleFontWeight": "normal"}
}
}
